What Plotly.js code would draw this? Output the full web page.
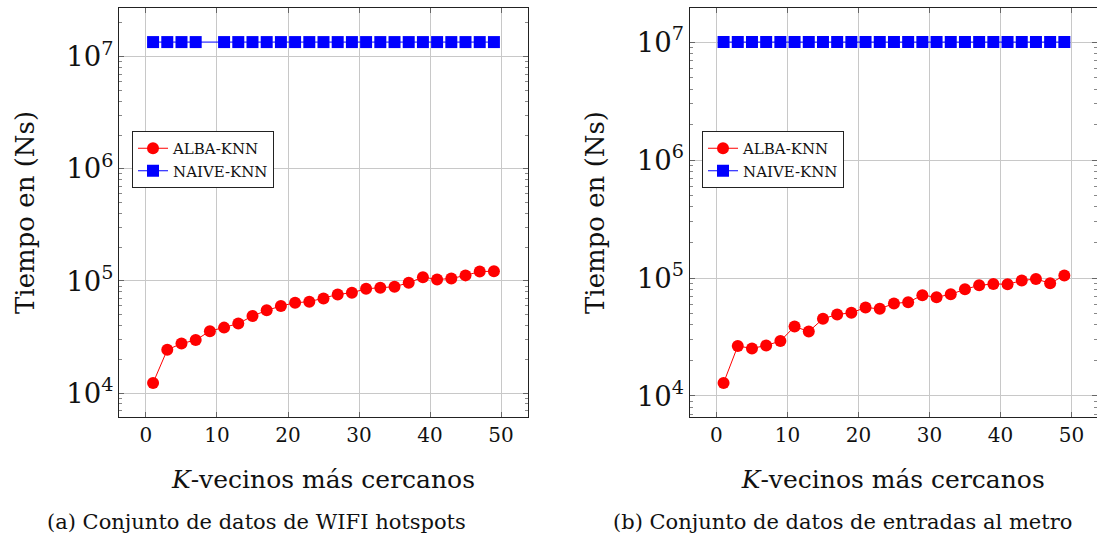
<!DOCTYPE html>
<html>
<head>
<meta charset="utf-8">
<script src="https://cdn.plot.ly/plotly-3.0.1.min.js"></script>
<style>html,body{margin:0;padding:0;background:#fff;overflow:hidden}#chart{width:1097px;height:544px}</style>
</head>
<body>
<div id="chart"></div>
<script>
// ---- data ----
const kValues = [1,3,5,7,9,11,13,15,17,19,21,23,25,27,29,31,33,35,37,39,41,43,45,47,49];
const kNaiveWifi = [1,3,5,7,11,13,15,17,19,21,23,25,27,29,31,33,35,37,39,41,43,45,47,49];
const albaWifi = [12300,24300,27600,29700,35600,38300,41600,48600,54600,59600,63900,65200,69800,75700,78400,85100,86900,88700,96200,108000,103000,105000,112000,121000,122000];
const naiveWifi = [13500000,13500000,13500000,13500000,13500000,13500000,13500000,13500000,13500000,13500000,13500000,13500000,13500000,13500000,13500000,13500000,13500000,13500000,13500000,13500000,13500000,13500000,13500000,13500000];
const albaMetro = [12900,26500,25300,26800,29200,38800,35200,45100,49100,50700,56200,54800,60800,62400,71400,68700,72800,80200,86700,89100,88500,95100,98200,90200,105000];
const naiveMetro = [10000000,10000000,10000000,10000000,10000000,10000000,10000000,10000000,10000000,10000000,10000000,10000000,10000000,10000000,10000000,10000000,10000000,10000000,10000000,10000000,10000000,10000000,10000000,10000000,10000000];
const seriesNames = ['ALBA-KNN','NAIVE-KNN'];
const xTitle = '<i>K</i>-vecinos más cercanos';
const yTitle = 'Tiempo en (Ns)';
const captions = ['(a) Conjunto de datos de WIFI hotspots','(b) Conjunto de datos de entradas al metro'];

// ---- helpers ----
const W = 1097, H = 544;
function logRange(a, b) {
  const all = a.concat(b).map(v => Math.log10(v));
  const lo = Math.min(...all), hi = Math.max(...all), d = hi - lo;
  return [lo - 0.1 * d, hi + 0.1 * d];
}
const FONT = 'DejaVu Serif, Liberation Serif, serif';
const redLine = {color: '#ff0000', width: 1};
const blueLine = {color: '#0000ff', width: 1};
const redMarker = {symbol: 'circle', size: 12, color: '#ff0000', line: {width: 0}};
const blueMarker = {symbol: 'square', size: 12, color: '#0000ff', line: {width: 0}};

const traces = [
  {x: kValues, y: albaWifi, name: seriesNames[0], mode: 'lines+markers', line: redLine, marker: redMarker, xaxis: 'x', yaxis: 'y', legend: 'legend'},
  {x: kNaiveWifi, y: naiveWifi, name: seriesNames[1], mode: 'lines+markers', line: blueLine, marker: blueMarker, xaxis: 'x', yaxis: 'y', legend: 'legend'},
  {x: kValues, y: albaMetro, name: seriesNames[0], mode: 'lines+markers', line: redLine, marker: redMarker, xaxis: 'x2', yaxis: 'y2', legend: 'legend2'},
  {x: kValues, y: naiveMetro, name: seriesNames[1], mode: 'lines+markers', line: blueLine, marker: blueMarker, xaxis: 'x2', yaxis: 'y2', legend: 'legend2'}
];

const kMin = Math.min(...kValues), kMax = Math.max(...kValues), kEnl = 0.1 * (kMax - kMin);
const yDom = [1 - 417 / H, 1 - 8 / H];

function xAxis(domain, range, anchor) {
  return {
    domain: domain, range: range, anchor: anchor, dtick: 10, tick0: 0,
    showline: true, linecolor: '#222', linewidth: 1, mirror: 'all',
    ticks: 'inside', ticklen: 5, tickcolor: '#666', tickwidth: 1,
    showgrid: true, gridcolor: '#c8c8c8', gridwidth: 1, zeroline: false,
    tickfont: {family: FONT, size: 20, color: '#111'},
    title: {text: xTitle, font: {family: FONT, size: 25, color: '#111'}, standoff: 24},
    fixedrange: true
  };
}
function yAxis(range, anchor) {
  return {
    type: 'log', domain: yDom, range: range, anchor: anchor, dtick: 1,
    exponentformat: 'power',
    showline: true, linecolor: '#222', linewidth: 1, mirror: 'all',
    ticks: 'inside', ticklen: 5, tickcolor: '#666', tickwidth: 1,
    minor: {ticks: 'inside', ticklen: 3, tickcolor: '#888', dtick: 'D1', showgrid: false},
    showgrid: true, gridcolor: '#c8c8c8', gridwidth: 1, zeroline: false,
    tickfont: {family: FONT, size: 22, color: '#111'},
    title: {text: yTitle, font: {family: FONT, size: 26, color: '#111'}, standoff: 24},
    fixedrange: true
  };
}
const legendBase = {
  yanchor: 'top', xanchor: 'left', bgcolor: '#fff', bordercolor: '#222', borderwidth: 1,
  font: {family: FONT, size: 15, color: '#111'}, tracegroupgap: 0
};

const layout = {
  width: W, height: H,
  margin: {l: 0, r: 0, t: 0, b: 0},
  paper_bgcolor: '#fff', plot_bgcolor: '#fff',
  showlegend: true,
  xaxis: xAxis([119 / W, 528 / W], [kMin - kEnl, kMax + kEnl], 'y'),
  yaxis: yAxis(logRange(albaWifi, naiveWifi), 'x'),
  xaxis2: xAxis([689.5 / W, 1], [kMin - kEnl, 53.6], 'y2'),
  yaxis2: yAxis(logRange(albaMetro, naiveMetro), 'x2'),
  legend: Object.assign({x: 132 / W, y: 1 - 131 / H}, legendBase),
  legend2: Object.assign({x: 702 / W, y: 1 - 131 / H}, legendBase),
  annotations: [
    {text: captions[0], xref: 'paper', yref: 'paper', x: 256 / W, y: 1 - 522 / H, xanchor: 'center', yanchor: 'middle', showarrow: false, font: {family: FONT, size: 21, color: '#111'}},
    {text: captions[1], xref: 'paper', yref: 'paper', x: 842 / W, y: 1 - 522 / H, xanchor: 'center', yanchor: 'middle', showarrow: false, font: {family: FONT, size: 21, color: '#111'}}
  ]
};

Plotly.newPlot('chart', traces, layout, {displayModeBar: false, staticPlot: true});
</script>
</body>
</html>
